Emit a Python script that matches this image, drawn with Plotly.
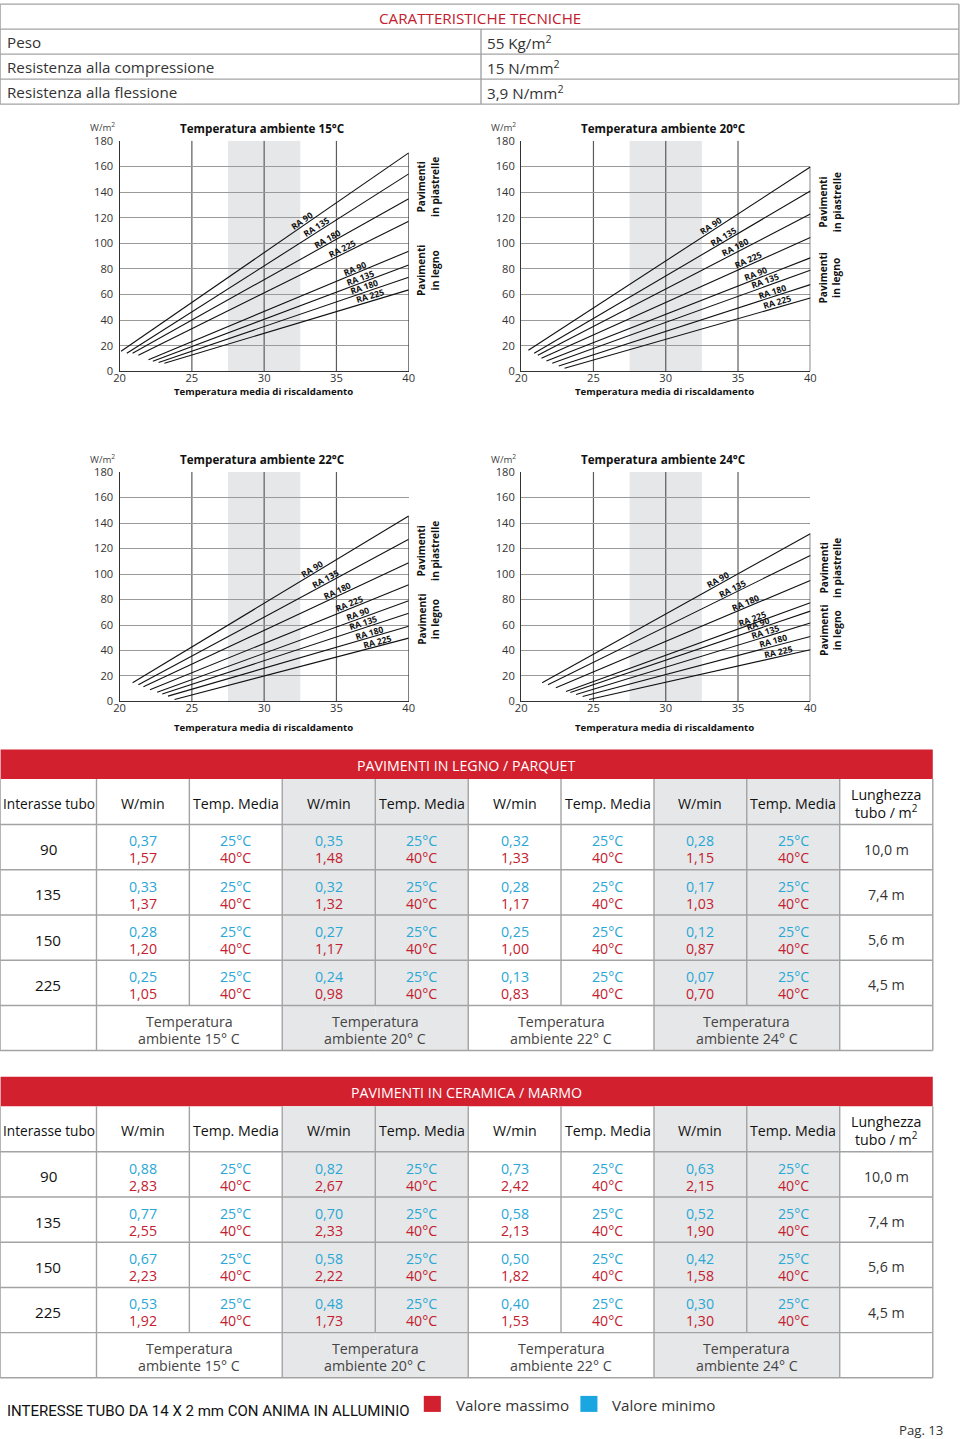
import math
import plotly.graph_objects as go

# The page has an 8px body margin and the photo of the page is scaled to fit the
# window, so reference pixels are mapped to figure pixels with these constants.
OFF = 8
FW, FH = 960, 1439
KX = (FW + 2 * OFF) / FW
KY = (FH + 2 * OFF) / FH
FS = (KX + KY) / 2
FONT = "Open Sans"

# ---------------- data ----------------
TECH_LABELS = ["Peso", "Resistenza alla compressione", "Resistenza alla flessione"]
TECH_VALUES = ["55 Kg/m<sup>2</sup>", "15 N/mm<sup>2</sup>", "3,9 N/mm<sup>2</sup>"]

CHART_TITLES = ["Temperatura ambiente 15°C", "Temperatura ambiente 20°C",
                "Temperatura ambiente 22°C", "Temperatura ambiente 24°C"]
LINE_NAMES = ["RA 90", "RA 135", "RA 180", "RA 225", "RA 90", "RA 135", "RA 180", "RA 225"]
X_END = 40

x_start_15 = [20.1, 20.5, 20.9, 21.3, 22.0, 22.3, 22.7, 23.1]
y_start_15 = [15.6, 14.1, 14.1, 12.5, 9.1, 7.8, 6.8, 6.3]
y_end_15 = [170.6, 154.2, 134.7, 117.2, 93.8, 83.1, 73.5, 63.6]

x_start_20 = [20.5, 20.9, 21.15, 21.4, 21.75, 22.15, 22.6, 23.0]
y_start_20 = [16.5, 14.1, 12.5, 10.2, 8.1, 6.3, 4.2, 2.4]
y_end_20 = [159.6, 140.8, 122.8, 104.5, 88.6, 78.9, 67.7, 57.2]

x_start_22 = [20.9, 21.3, 21.65, 22.1, 22.6, 22.95, 23.35, 23.8]
y_start_22 = [14.7, 13.1, 11.5, 9.2, 7.3, 5.8, 4.2, 1.6]
y_end_22 = [145.5, 127.2, 108.8, 91.6, 79.0, 69.3, 59.1, 49.7]

x_start_24 = [21.45, 21.85, 22.4, 23.1, 23.4, 23.8, 24.25, 24.7]
y_start_24 = [14.7, 13.1, 10.7, 7.8, 7.1, 5.5, 3.9, 1.6]
y_end_24 = [131.6, 114.6, 95.0, 77.4, 70.9, 61.5, 51.0, 40.6]

X_TICKS = [20, 25, 30, 35, 40]
X_GRID = [25, 30, 35]
BAND = [27.5, 32.5]

SPACINGS = ["90", "135", "150", "225"]
LENGTHS = ["10,0 m", "7,4 m", "5,6 m", "4,5 m"]
AMBIENTS = ["15° C", "20° C", "22° C", "24° C"]
T_MIN, T_MAX = "25°C", "40°C"

legno_min_15 = ["0,37", "0,33", "0,28", "0,25"]
legno_max_15 = ["1,57", "1,37", "1,20", "1,05"]
legno_min_20 = ["0,35", "0,32", "0,27", "0,24"]
legno_max_20 = ["1,48", "1,32", "1,17", "0,98"]
legno_min_22 = ["0,32", "0,28", "0,25", "0,13"]
legno_max_22 = ["1,33", "1,17", "1,00", "0,83"]
legno_min_24 = ["0,28", "0,17", "0,12", "0,07"]
legno_max_24 = ["1,15", "1,03", "0,87", "0,70"]

cer_min_15 = ["0,88", "0,77", "0,67", "0,53"]
cer_max_15 = ["2,83", "2,55", "2,23", "1,92"]
cer_min_20 = ["0,82", "0,70", "0,58", "0,48"]
cer_max_20 = ["2,67", "2,33", "2,22", "1,73"]
cer_min_22 = ["0,73", "0,58", "0,50", "0,40"]
cer_max_22 = ["2,42", "2,13", "1,82", "1,53"]
cer_min_24 = ["0,63", "0,52", "0,42", "0,30"]
cer_max_24 = ["2,15", "1,90", "1,58", "1,30"]

# ---------------- style / layout ----------------
BLUE = "#2aa7d6"
RED_TXT = "#c3202e"
RED_BAR = "#d2202f"
GRAY_FILL = "#e6e7e8"
BORDER = "#a3a3a3"
DARK = "#333333"

shapes, annotations = [], []


def fx(x):
    return (x * KX - OFF) / FW


def fy(y):
    return 1 - (y * KY - OFF) / FH


def ptext(cx, cy, s, size, color=DARK, weight=400, xanchor="center", family=FONT):
    annotations.append(dict(x=fx(cx), y=fy(cy), xref="paper", yref="paper", text=s,
                            showarrow=False, xanchor=xanchor, yanchor="middle",
                            font=dict(family=family, size=size * FS, color=color, weight=weight)))


def prect(x0, y0, x1, y1, fill):
    shapes.append(dict(type="rect", xref="paper", yref="paper", x0=fx(x0), x1=fx(x1),
                       y0=fy(y1), y1=fy(y0), fillcolor=fill, line=dict(width=0),
                       layer="below"))


def pline(x0, y0, x1, y1, color=BORDER, width=1.4):
    shapes.append(dict(type="line", xref="paper", yref="paper", x0=fx(x0), x1=fx(x1),
                       y0=fy(y0), y1=fy(y1), line=dict(color=color, width=width)))


# ---------------- top table ----------------
TT = dict(l=2, r=957, top=4, rows=[29, 54, 79, 104], div=481)
for yy in [TT["top"]] + TT["rows"]:
    pline(TT["l"], yy, TT["r"], yy)
pline(TT["l"], TT["top"], TT["l"], TT["rows"][-1])
pline(TT["r"], TT["top"], TT["r"], TT["rows"][-1])
pline(TT["div"], TT["rows"][0], TT["div"], TT["rows"][-1])
ptext(480, 18, "CARATTERISTICHE TECNICHE", 15, RED_TXT)
for i, (lab, val) in enumerate(zip(TECH_LABELS, TECH_VALUES)):
    cy = (TT["rows"][i] + TT["rows"][i + 1]) / 2 + 0.5
    ptext(7, cy, lab, 15, DARK, xanchor="left")
    ptext(485, cy, val, 15, DARK, xanchor="left")

# ---------------- charts ----------------
charts = [
    (CHART_TITLES[0], x_start_15, y_start_15, y_end_15),
    (CHART_TITLES[1], x_start_20, y_start_20, y_end_20),
    (CHART_TITLES[2], x_start_22, y_start_22, y_end_22),
    (CHART_TITLES[3], x_start_24, y_start_24, y_end_24),
]
DOMAINS = [(121, 409, 140.7, 371), (521, 809, 140.7, 371),
           (121, 409, 471.7, 701), (521, 809, 471.7, 701)]
XTITLE_Y = [391, 391, 727, 727]
LABEL_X = [
    [32.8, 33.8, 34.55, 35.55, 36.4, 36.8, 37.05, 37.45],
    [33.3, 34.15, 35.0, 35.85, 36.35, 37.0, 37.5, 37.85],
    [33.5, 34.4, 35.2, 36.0, 36.6, 36.95, 37.4, 37.9],
    [33.75, 34.75, 35.65, 36.1, 36.5, 37.0, 37.55, 37.9],
]

fig = go.Figure()
layout_axes = {}
for k, ((title, xs, ys, ye), (l, r, t, b)) in enumerate(zip(charts, DOMAINS)):
    suf = "" if k == 0 else str(k + 1)
    xa, ya = f"x{suf}", f"y{suf}"
    layout_axes[f"xaxis{suf}"] = dict(
        domain=[fx(l), fx(r)], range=[20, 40], anchor=ya, tickvals=X_TICKS,
        showgrid=False, zeroline=False, showline=True, linecolor=DARK, linewidth=1.2,
        ticks="", ticklabelstandoff=-4,
        tickfont=dict(family=FONT, size=11 * FS, color=DARK), fixedrange=True)
    layout_axes[f"yaxis{suf}"] = dict(
        domain=[fy(b), fy(t)], range=[0, 180], anchor=xa, tick0=0, dtick=20,
        showgrid=True, gridcolor="#9a9a9a", gridwidth=1.4, zeroline=False,
        showline=True, linecolor=DARK, linewidth=1.2, ticks="", ticklabelstandoff=3,
        tickfont=dict(family=FONT, size=11 * FS, color=DARK), fixedrange=True)

    # gray band and vertical grid
    shapes.append(dict(type="rect", xref=xa, yref=ya, x0=BAND[0], x1=BAND[1], y0=0, y1=180,
                       fillcolor=GRAY_FILL, line=dict(width=0), layer="below"))
    for gx in X_GRID:
        shapes.append(dict(type="line", xref=xa, yref=ya, x0=gx, x1=gx, y0=0, y1=180,
                           line=dict(color="#5c5c5c", width=1.2), layer="below"))
    # right border up to highest line end, and end ticks
    shapes.append(dict(type="line", xref=xa, yref=ya, x0=X_END, x1=X_END, y0=0, y1=max(ye),
                       line=dict(color=DARK, width=1.2)))
    for v in ye:
        shapes.append(dict(type="line", xref=xa, yref=ya, xsizemode="pixel", xanchor=X_END,
                           x0=0, x1=5, y0=v, y1=v, line=dict(color=DARK, width=1)))

    pw, ph = (r - l) * KX, (b - t) * KY
    for j in range(8):
        fig.add_trace(go.Scatter(x=[xs[j], X_END], y=[ys[j], ye[j]], mode="lines",
                                 line=dict(color="#111111", width=1.1), xaxis=xa, yaxis=ya,
                                 showlegend=False, hoverinfo="skip"))
        dxp = (X_END - xs[j]) / 20 * pw
        dyp = (ye[j] - ys[j]) / 180 * ph
        ang = math.atan2(dyp, dxp)
        lx = LABEL_X[k][j]
        ly = ys[j] + (lx - xs[j]) / (X_END - xs[j]) * (ye[j] - ys[j])
        d = 4.7
        annotations.append(dict(x=lx, y=ly, xref=xa, yref=ya, text=LINE_NAMES[j],
                                showarrow=False, xanchor="center", yanchor="middle",
                                textangle=-math.degrees(ang),
                                xshift=-d * math.sin(ang), yshift=d * math.cos(ang),
                                font=dict(family=FONT, size=8.5 * FS, color="#111", weight=700)))

    # side labels centered on the group line ends
    tiles_mid = sum(ye[:4]) / 4
    wood_mid = sum(ye[4:]) / 4
    for s, ymid in [("Pavimenti<br>in piastrelle", tiles_mid), ("Pavimenti<br>in legno", wood_mid)]:
        annotations.append(dict(x=1, y=ymid, xref=f"{xa} domain", yref=ya, text=s,
                                showarrow=False, xanchor="center", yanchor="middle",
                                xshift=19.5, textangle=-90,
                                font=dict(family=FONT, size=10 * FS, color="#111", weight=700)))

    # titles
    ptext((l + r) / 2 - 2, t - 12.5, title, 11.5, "#111", weight=700)
    ptext(l - 3, t - 13.5, "W/m<sup>2</sup>", 9.5, "#444", xanchor="right")
    ptext((l + r) / 2 - 1, XTITLE_Y[k], "Temperatura media di riscaldamento", 9.5, "#111", weight=700)

# ---------------- data tables ----------------
COL_EDGES = [2, 98, 190.5, 283, 375.7, 468.3, 560.7, 653.3, 745.7, 838.3, 931]
GRAY_COLS = [3, 4, 7, 8]
FOOT_EDGES = [2, 98, 283, 468.3, 653.3, 838.3, 931]
TABLES = [
    ("PAVIMENTI IN LEGNO / PARQUET", 749,
     [(legno_min_15, legno_max_15), (legno_min_20, legno_max_20),
      (legno_min_22, legno_max_22), (legno_min_24, legno_max_24)]),
    ("PAVIMENTI IN CERAMICA / MARMO", 1076,
     [(cer_min_15, cer_max_15), (cer_min_20, cer_max_20),
      (cer_min_22, cer_max_22), (cer_min_24, cer_max_24)]),
]
RED_H, HEAD_H, ROW_H, FOOT_H = 29.5, 45.5, 45.2, 45.0

for title, top, groups in TABLES:
    y_head = top + RED_H
    y_rows = [y_head + HEAD_H + i * ROW_H for i in range(5)]
    y_bot = y_rows[-1] + FOOT_H
    prect(COL_EDGES[0] + 0.5, top, COL_EDGES[-1], y_head, RED_BAR)
    ptext((COL_EDGES[0] + COL_EDGES[-1]) / 2, (top + y_head) / 2 + 1.5, title, 14, "white")
    for c in GRAY_COLS:
        prect(COL_EDGES[c], y_head, COL_EDGES[c + 1], y_bot, GRAY_FILL)
    # horizontal borders
    for yy in [y_head + HEAD_H] + y_rows[1:] + [y_bot]:
        pline(COL_EDGES[0], yy, COL_EDGES[-1], yy)
    # vertical borders
    for xx in COL_EDGES:
        pline(xx, y_head, xx, y_rows[-1])
    for xx in FOOT_EDGES:
        pline(xx, y_rows[-1], xx, y_bot)

    # header
    hc = y_head + HEAD_H / 2 + 2
    ptext((COL_EDGES[0] + COL_EDGES[1]) / 2 + 1, hc, "Interasse tubo", 13.5, "#111", weight=500)
    for g in range(4):
        c = 1 + 2 * g
        ptext((COL_EDGES[c] + COL_EDGES[c + 1]) / 2, hc, "W/min", 14, "#111", weight=500)
        ptext((COL_EDGES[c + 1] + COL_EDGES[c + 2]) / 2, hc, "Temp. Media", 14, "#111", weight=500)
    ptext((COL_EDGES[9] + COL_EDGES[10]) / 2, hc, "Lunghezza<br>tubo / m<sup>2</sup>", 14, "#111",
          weight=500)

    # body
    for i in range(4):
        rc = (y_rows[i] + y_rows[i + 1]) / 2
        ptext((COL_EDGES[0] + COL_EDGES[1]) / 2, rc + 2, SPACINGS[i], 15, "#111", weight=500)
        for g, (vmin, vmax) in enumerate(groups):
            c = 1 + 2 * g
            cxw = (COL_EDGES[c] + COL_EDGES[c + 1]) / 2
            cxt = (COL_EDGES[c + 1] + COL_EDGES[c + 2]) / 2
            ptext(cxw, rc - 6.3, vmin[i], 14, BLUE)
            ptext(cxw, rc + 10.7, vmax[i], 14, RED_TXT)
            ptext(cxt, rc - 6.3, T_MIN, 14, BLUE)
            ptext(cxt, rc + 10.7, T_MAX, 14, RED_TXT)
        ptext((COL_EDGES[9] + COL_EDGES[10]) / 2, rc + 2, LENGTHS[i], 14, DARK)

    # footer row
    fc = (y_rows[-1] + y_bot) / 2
    for g in range(4):
        cx = (FOOT_EDGES[1 + g] + FOOT_EDGES[2 + g]) / 2
        ptext(cx, fc - 6.3, "Temperatura", 14, "#444")
        ptext(cx, fc + 10.7, "ambiente " + AMBIENTS[g], 14, "#444")

# ---------------- footer ----------------
ptext(7, 1410, "INTERESSE TUBO DA 14 X 2 mm CON ANIMA IN ALLUMINIO", 14.8, "#111",
      xanchor="left", family="Roboto")
prect(424, 1395, 441, 1411, RED_BAR)
ptext(454, 1404, "Valore massimo", 15, DARK, xanchor="left")
prect(580, 1395, 597, 1411, "#1aa6e0")
ptext(609, 1404, "Valore minimo", 15, DARK, xanchor="left")
ptext(943, 1429, "Pag. 13", 13, DARK, xanchor="right")

fig.update_layout(
    width=FW, height=FH, margin=dict(l=0, r=0, t=0, b=0),
    paper_bgcolor="white", plot_bgcolor="white", showlegend=False,
    shapes=shapes, annotations=annotations, **layout_axes)

fig.write_html("out.html")
